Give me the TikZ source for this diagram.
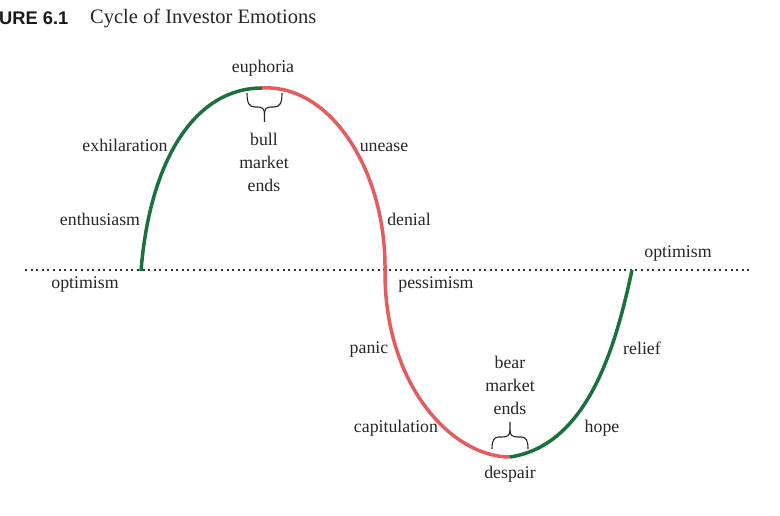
\documentclass[tikz,border=0pt]{standalone}
\usepackage{fontspec}
\setmainfont{Liberation Serif}
\newfontfamily\titlesans{Liberation Sans}
\definecolor{bullgreen}{RGB}{28,112,62}
\definecolor{bearred}{RGB}{228,92,94}
\begin{document}
\begin{tikzpicture}[x=1pt,y=-1pt,
  lbl/.style={font=\fontsize{17.8}{21}\selectfont, inner sep=0pt, text=black!85},
  stack/.style={lbl, align=center, font=\fontsize{17.8}{23}\selectfont},
  upcurve/.style={draw=bullgreen, line width=3.5pt},
  downcurve/.style={draw=bearred, line width=3.5pt},
  bracepath/.style={draw=black!85, line width=1.1pt},
  baseline/.style={draw=black!80, line width=1.3pt, dash pattern=on 2pt off 3.6pt}]
\useasboundingbox (0,0) rectangle (780,516);
% title
\node[anchor=west, inner sep=0pt, font=\titlesans\bfseries\fontsize{18.3}{20}\selectfont, text=black!90] (fig) at (-1,18) {URE 6.1};
\node[anchor=west, inner sep=0pt, font=\fontsize{20.5}{24}\selectfont, text=black!85] (title) at (90,18) {Cycle of Investor Emotions};
% baseline
\coordinate (bl) at (25,270);
\coordinate (br) at (752,270);
\draw[baseline] (bl) -- (br);
% curve
\coordinate (start) at (141,271);
\coordinate (peak) at (262,88);
\coordinate (mid) at (385,270);
\coordinate (trough) at (510,457);
\coordinate (end) at (632,270);
\draw[upcurve] (start) .. controls (150,158) and (196,88) .. (peak);
\draw[downcurve] (peak) .. controls (330,84) and (386,170) .. (mid) .. controls (384,385) and (452,457) .. (trough);
\draw[upcurve] (trough) .. controls (590,445) and (617,340) .. (end);
% upper brace
\coordinate (ubtip) at (264.5,122);
\draw[bracepath] (247,93) .. controls (247,103) and (249,107) .. (255,107) -- (258,107) .. controls (262.5,107) and (264.5,109) .. (264.5,114) -- (ubtip);
\draw[bracepath] (282,93) .. controls (282,103) and (280,107) .. (274,107) -- (271,107) .. controls (266.5,107) and (264.5,109) .. (264.5,114);
% lower brace
\coordinate (lbtip) at (510,422);
\draw[bracepath] (492,449) .. controls (492,440) and (494,437) .. (499,437) -- (502,437) .. controls (508,437) and (510,435) .. (510,430) -- (lbtip);
\draw[bracepath] (528,449) .. controls (528,440) and (526,437) .. (521,437) -- (518,437) .. controls (512,437) and (510,435) .. (510,430);
% labels
\node[lbl] (euphoria) at (263,68) {euphoria};
\node[stack] (bullends) at (264,162) {bull\\market\\ends};
\node[lbl] (exhil) at (125,145) {exhilaration};
\node[lbl] (unease) at (384,147) {unease};
\node[lbl] (enth) at (100,219) {enthusiasm};
\node[lbl] (denial) at (409,219) {denial};
\node[lbl] (optl) at (85,285) {optimism};
\node[lbl] (pess) at (436,285) {pessimism};
\node[lbl] (optr) at (678,254) {optimism};
\node[lbl] (panic) at (369,350) {panic};
\node[lbl] (relief) at (642,348) {relief};
\node[stack] (bearends) at (510,385) {bear\\market\\ends};
\node[lbl] (capit) at (396,428) {capitulation};
\node[lbl] (hope) at (602,428) {hope};
\node[lbl] (despair) at (510,474) {despair};
\end{tikzpicture}
\end{document}
